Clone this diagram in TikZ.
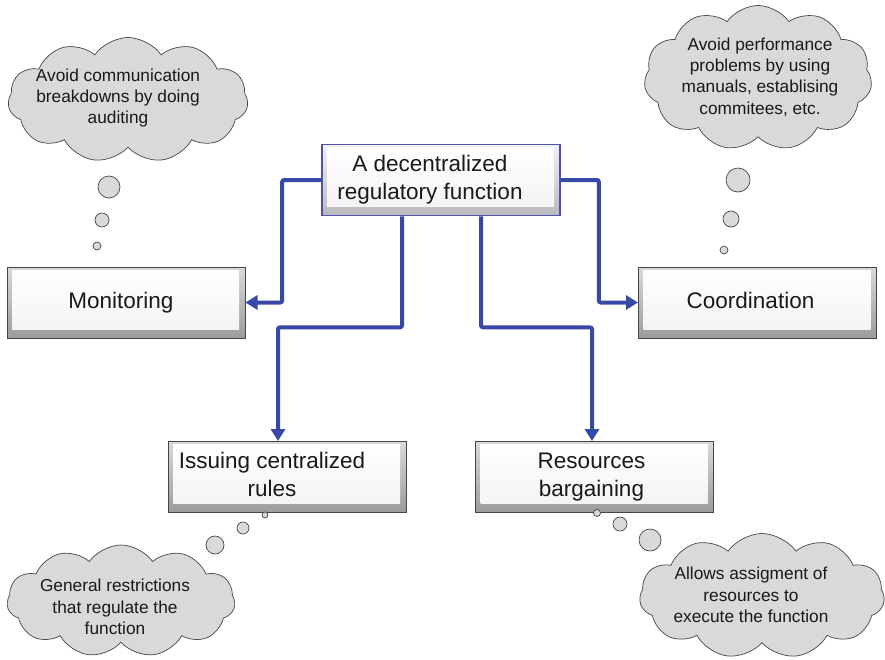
\documentclass[tikz,border=0pt]{standalone}
\usepackage{fontspec}
\setmainfont{Liberation Sans}
\usetikzlibrary{shapes.symbols,arrows.meta}
\definecolor{conn}{RGB}{56,72,166}
\definecolor{topedge}{RGB}{80,80,176}
\definecolor{cloudfill}{RGB}{217,217,217}
\definecolor{cloudedge}{RGB}{70,70,70}
\definecolor{txt}{RGB}{25,25,25}
\newcommand{\shiftleft}[2]{\begin{tabular}{@{}c@{\hspace{#1}}}#2\end{tabular}}
\tikzset{
  bevelbox/.style={draw=gray!55!black, line width=1pt, top color=gray!30, bottom color=gray!78,
    minimum width=238pt, minimum height=71pt, inner sep=0pt, align=center, text=txt,
    font=\fontsize{22.5}{28}\selectfont,
    path picture={\shade[top color=white, bottom color=gray!10]
      ([shift={(5pt,-3pt)}]path picture bounding box.north west) rectangle
      ([shift={(-6pt,9pt)}]path picture bounding box.south east);}},
  topbox/.style={bevelbox, draw=topedge, line width=1.6pt, top color=gray!10, bottom color=gray!55},
  thought/.style={cloud, cloud puffs=11, cloud puff arc=110, cloud ignores aspect,
    draw=cloudedge, line width=0.7pt, fill=cloudfill, inner sep=0pt},
  bubble/.style={circle, draw=cloudedge, line width=0.7pt, fill=cloudfill, inner sep=0pt},
  cloudtext/.style={align=center, text=txt, font=\fontsize{17.3}{21.3}\selectfont},
  link/.style={draw=conn, line width=4pt, rounded corners=2pt,
    -{Triangle[length=12pt,width=14pt]}}
}
\begin{document}
\begin{tikzpicture}[x=1pt,y=-1pt]
\useasboundingbox (0,0) rectangle (885,659);

% boxes
\node[topbox] (top) at (441,180) {\shiftleft{22pt}{A decentralized\\regulatory function}};
\node[bevelbox] (mon) at (126,302.5) {\shiftleft{10pt}{Monitoring}};
\node[bevelbox] (coo) at (757.5,302.5) {\shiftleft{14pt}{Coordination}};
\node[bevelbox] (iss) at (287,477) {\shiftleft{30pt}{Issuing centralized\\rules}};
\node[bevelbox] (res) at (594.5,477) {\shiftleft{6pt}{Resources\\bargaining}};

% connectors
\draw[link] (top.west) -- ++(-39,0) |- (mon.east);
\draw[link] (top.east) -- ++(38,0) |- (coo.west);
\draw[link] ([xshift=-39pt]top.south) -- ++(0,111) -| ([xshift=-9pt]iss.north);
\draw[link] ([xshift=40pt]top.south) -- ++(0,111) -| ([xshift=-2.5pt]res.north);

% clouds
\node[thought, minimum width=240pt, minimum height=125pt] (c1) at (128,100) {};
\node[cloudtext] (t1) at (118,98) {Avoid communication\\breakdowns by doing\\auditing};
\node[bubble, minimum size=22pt] (b11) at (109,187) {};
\node[bubble, minimum size=14pt] (b12) at (102,220) {};
\node[bubble, minimum size=8pt] (b13) at (97,246) {};

\node[thought, minimum width=228pt, minimum height=145pt] (c2) at (758,78) {};
\node[cloudtext] (t2) at (760,77) {Avoid performance\\problems by using\\manuals, establising\\commitees, etc.};
\node[bubble, minimum size=24pt] (b21) at (738,180) {};
\node[bubble, minimum size=16pt] (b22) at (731,219) {};
\node[bubble, minimum size=8pt] (b23) at (724,250) {};

\node[thought, minimum width=228pt, minimum height=112pt] (c3) at (121,601) {};
\node[cloudtext] (t3) at (115,607) {General restrictions\\that regulate the\\function};
\node[bubble, minimum size=18pt] (b31) at (215,545) {};
\node[bubble, minimum size=12pt] (b32) at (243,528) {};
\node[bubble, minimum size=6pt] (b33) at (265,515) {};

\node[thought, minimum width=245pt, minimum height=125pt] (c4) at (762,596) {};
\node[cloudtext] (t4) at (751,595) {Allows assigment of\\resources to\\execute the function};
\node[bubble, minimum size=22pt] (b41) at (650,540) {};
\node[bubble, minimum size=14pt] (b42) at (620,524) {};
\node[bubble, minimum size=7pt] (b43) at (597,513) {};
\end{tikzpicture}
\end{document}
